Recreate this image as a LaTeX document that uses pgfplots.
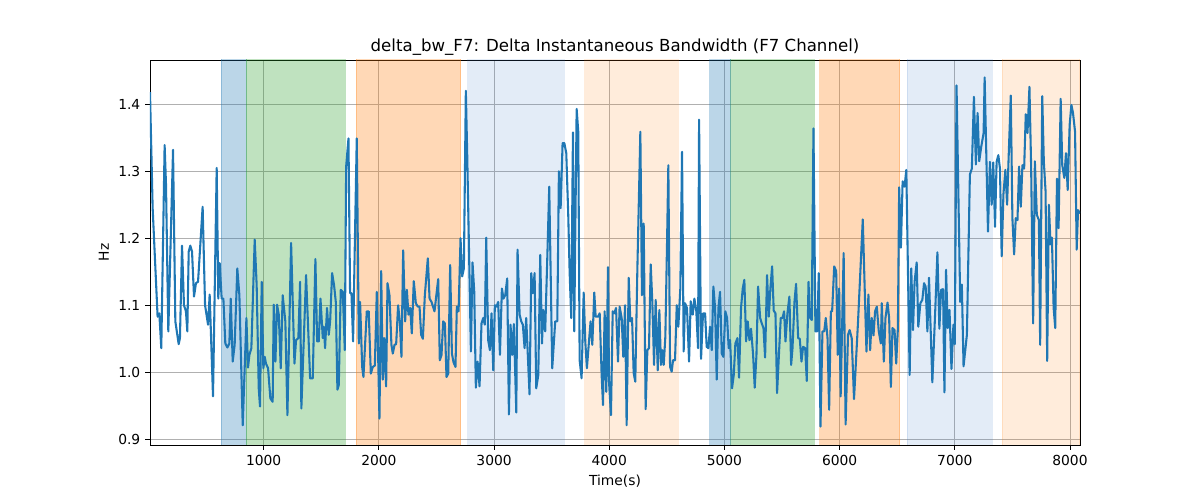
\documentclass[border=0pt]{standalone}
\usepackage{fontspec}
\setmainfont{DejaVu Sans}
\usepackage{pgfplots}
\pgfplotsset{compat=1.18}
\definecolor{tabblue}{RGB}{31,119,180}
\definecolor{tabgreen}{RGB}{44,160,44}
\definecolor{taborange}{RGB}{255,127,14}
\definecolor{lightbandblue}{RGB}{68,128,202}
\begin{document}
\begin{tikzpicture}
\begin{axis}[
  scale only axis, width=9.3in, height=3.85in,
  xmin=13, xmax=8087, ymin=0.8915, ymax=1.466,
  xtick={1000,2000,3000,4000,5000,6000,7000,8000},
  ytick={0.9,1.0,1.1,1.2,1.3,1.4},
  /pgf/number format/assume math mode=true,
  xticklabel style={/pgf/number format/1000 sep={}},
  yticklabel style={/pgf/number format/fixed,/pgf/number format/fixed zerofill,/pgf/number format/precision=1},
  tick label style={font=\fontsize{10}{12}\selectfont},
  tick align=outside, major tick length=3.5pt,
  tick style={black, line width=0.6pt},
  xtick pos=bottom, ytick pos=left,
  grid=major, grid style={color=black!31, line width=0.6pt},
  axis line style={line width=0.6pt},
  xlabel={Time(s)}, ylabel={Hz},
  label style={font=\fontsize{10}{12}\selectfont},
  title={delta\_bw\_F7: Delta Instantaneous Bandwidth (F7 Channel)},
  title style={font=\fontsize{12}{14}\selectfont, yshift=-6pt},
]
% shaded bands
\addplot[draw=tabblue, draw opacity=0.3, fill=tabblue, fill opacity=0.3, line width=0.8pt] coordinates {(632,0.85) (847,0.85) (847,1.5) (632,1.5)} -- cycle;
\addplot[draw=tabgreen, draw opacity=0.3, fill=tabgreen, fill opacity=0.3, line width=0.8pt] coordinates {(847,0.85) (1707,0.85) (1707,1.5) (847,1.5)} -- cycle;
\addplot[draw=taborange, draw opacity=0.3, fill=taborange, fill opacity=0.3, line width=0.8pt] coordinates {(1805,0.85) (2709,0.85) (2709,1.5) (1805,1.5)} -- cycle;
\addplot[draw=lightbandblue, draw opacity=0.15, fill=lightbandblue, fill opacity=0.15, line width=0.8pt] coordinates {(2770,0.85) (3610,0.85) (3610,1.5) (2770,1.5)} -- cycle;
\addplot[draw=taborange, draw opacity=0.15, fill=taborange, fill opacity=0.15, line width=0.8pt] coordinates {(3786,0.85) (4600,0.85) (4600,1.5) (3786,1.5)} -- cycle;
\addplot[draw=tabblue, draw opacity=0.3, fill=tabblue, fill opacity=0.3, line width=0.8pt] coordinates {(4872,0.85) (5055,0.85) (5055,1.5) (4872,1.5)} -- cycle;
\addplot[draw=tabgreen, draw opacity=0.3, fill=tabgreen, fill opacity=0.3, line width=0.8pt] coordinates {(5055,0.85) (5779,0.85) (5779,1.5) (5055,1.5)} -- cycle;
\addplot[draw=taborange, draw opacity=0.3, fill=taborange, fill opacity=0.3, line width=0.8pt] coordinates {(5828,0.85) (6523,0.85) (6523,1.5) (5828,1.5)} -- cycle;
\addplot[draw=lightbandblue, draw opacity=0.15, fill=lightbandblue, fill opacity=0.15, line width=0.8pt] coordinates {(6587,0.85) (7326,0.85) (7326,1.5) (6587,1.5)} -- cycle;
\addplot[draw=taborange, draw opacity=0.15, fill=taborange, fill opacity=0.15, line width=0.8pt] coordinates {(7413,0.85) (8087,0.85) (8087,1.5) (7413,1.5)} -- cycle;
% signal
\addplot[color=tabblue, line width=1.5pt, mark=none, line join=round] table[row sep=\\] {
x y\\
13 1.418\\ 36 1.245\\ 79 1.083\\ 94 1.088\\ 111 1.036\\ 140 1.339\\ 152 1.280\\ 172 1.061\\ 213 1.332\\ 233 1.076\\
262 1.042\\ 273 1.051\\ 291 1.189\\ 308 1.100\\ 325 1.091\\ 337 1.061\\ 349 1.180\\ 363 1.189\\ 378 1.180\\ 395 1.113\\
412 1.133\\ 430 1.135\\ 470 1.247\\ 491 1.100\\ 517 1.071\\ 531 1.116\\ 560 0.964\\ 592 1.305\\ 606 1.110\\ 618 1.163\\
635 1.110\\ 650 1.110\\ 667 1.043\\ 685 1.037\\ 702 1.043\\ 714 1.110\\ 731 1.016\\ 748 1.041\\ 771 1.155\\ 789 1.115\\
818 0.921\\ 850 1.081\\ 864 1.007\\ 876 1.026\\ 893 1.036\\ 922 1.198\\ 939 1.130\\ 957 0.976\\ 968 0.949\\ 983 1.135\\
997 1.006\\ 1009 1.023\\ 1020 1.013\\ 1038 1.006\\ 1058 0.961\\ 1078 0.956\\ 1087 1.101\\ 1102 1.016\\ 1116 1.101\\ 1131 1.086\\
1148 1.006\\ 1165 1.115\\ 1188 1.076\\ 1206 0.936\\ 1238 1.193\\ 1267 1.013\\ 1281 1.048\\ 1301 1.051\\ 1316 1.135\\ 1327 0.946\\
1368 1.145\\ 1403 0.991\\ 1426 0.991\\ 1449 1.169\\ 1464 1.046\\ 1478 1.046\\ 1493 1.110\\ 1513 1.051\\ 1522 1.068\\ 1533 1.036\\
1550 1.096\\ 1565 1.056\\ 1577 1.076\\ 1594 1.148\\ 1611 1.130\\ 1626 1.105\\ 1640 0.974\\ 1652 0.981\\ 1669 1.123\\ 1687 1.120\\
1704 1.033\\ 1716 1.307\\ 1736 1.349\\ 1750 1.118\\ 1762 1.118\\ 1776 1.046\\ 1808 1.349\\ 1826 1.043\\ 1837 1.105\\ 1855 1.008\\
1866 0.993\\ 1895 1.091\\ 1912 1.091\\ 1930 0.998\\ 1947 1.008\\ 1965 1.010\\ 1982 1.120\\ 2005 0.931\\
2020 1.151\\ 2034 0.989\\ 2046 1.051\\ 2063 0.979\\ 2075 1.133\\ 2092 1.115\\ 2109 1.041\\ 2121 1.028\\ 2136 1.041\\ 2150 1.042\\
2167 1.100\\ 2182 1.076\\ 2196 1.023\\ 2211 1.182\\ 2228 1.076\\ 2243 1.123\\ 2257 1.086\\ 2272 1.096\\ 2286 1.058\\ 2303 1.136\\
2321 1.103\\ 2338 1.098\\ 2353 1.098\\ 2367 1.056\\ 2382 1.050\\ 2399 1.115\\ 2425 1.170\\ 2440 1.110\\ 2457 1.105\\ 2483 1.091\\
2515 1.139\\ 2529 1.018\\ 2544 1.026\\ 2558 1.076\\ 2573 1.073\\ 2587 0.993\\ 2602 0.998\\ 2619 1.160\\ 2634 1.028\\ 2648 1.015\\
2665 1.008\\ 2677 1.098\\ 2692 1.091\\ 2709 1.200\\ 2723 1.143\\ 2738 1.155\\ 2755 1.420\\ 2767 1.324\\ 2799 1.031\\ 2813 1.164\\
2828 1.120\\ 2842 0.977\\ 2857 1.016\\ 2874 0.979\\ 2891 1.073\\ 2906 1.081\\ 2920 1.071\\ 2932 1.201\\ 2949 1.048\\ 2964 1.033\\
2978 1.088\\ 2993 1.003\\ 3007 1.100\\ 3022 1.098\\ 3036 1.105\\ 3051 1.026\\ 3068 1.125\\ 3082 1.110\\ 3097 1.115\\ 3114 1.140\\
3129 0.937\\ 3143 1.071\\ 3158 1.026\\ 3172 1.072\\ 3193 0.940\\ 3204 1.183\\ 3222 1.086\\ 3236 1.076\\ 3250 1.071\\ 3265 1.036\\
3279 1.081\\ 3308 0.967\\ 3323 1.148\\ 3337 1.118\\ 3352 1.148\\ 3366 0.976\\ 3384 0.996\\ 3401 1.175\\ 3416 1.043\\ 3427 1.093\\
3444 1.061\\ 3462 1.170\\ 3479 1.277\\ 3505 1.006\\ 3531 1.076\\ 3549 1.076\\ 3563 1.300\\ 3578 1.245\\ 3595 1.342\\ 3610 1.342\\
3627 1.327\\ 3644 1.235\\ 3656 1.150\\ 3670 1.081\\ 3685 1.358\\ 3696 1.061\\ 3717 1.393\\ 3731 1.359\\ 3743 1.018\\ 3760 0.991\\
3778 1.119\\ 3792 1.046\\ 3806 1.006\\ 3824 1.046\\ 3838 1.076\\ 3853 1.041\\ 3870 1.119\\ 3882 1.083\\ 3902 1.083\\ 3917 1.088\\
3934 0.996\\ 3946 0.951\\ 3960 1.091\\ 3974 0.971\\ 3989 1.157\\
3998 0.986\\ 4015 0.936\\ 4030 1.091\\ 4044 1.088\\ 4059 1.096\\ 4076 1.016\\ 4090 1.098\\ 4108 1.081\\ 4122 1.023\\ 4137 1.100\\
4151 0.921\\ 4169 1.141\\ 4183 1.076\\ 4198 1.081\\ 4212 0.999\\ 4226 0.986\\ 4244 1.153\\ 4270 1.359\\ 4284 1.115\\ 4299 1.222\\
4316 0.945\\ 4331 1.033\\ 4345 1.036\\ 4360 1.161\\ 4374 1.105\\ 4389 1.011\\ 4403 1.108\\ 4421 1.003\\ 4435 1.093\\ 4449 1.011\\
4461 1.033\\ 4473 1.011\\ 4487 1.053\\ 4502 1.195\\ 4513 1.309\\ 4528 1.008\\ 4542 1.001\\ 4554 1.018\\ 4571 1.018\\ 4586 1.100\\
4600 1.068\\ 4617 1.125\\ 4632 1.329\\ 4646 1.031\\ 4658 1.103\\ 4675 1.096\\ 4693 1.016\\ 4707 1.106\\ 4725 1.086\\ 4739 1.110\\
4756 1.091\\ 4771 1.036\\ 4780 1.377\\ 4797 1.020\\ 4814 1.088\\ 4832 1.088\\ 4846 1.038\\ 4861 1.036\\ 4875 1.068\\ 4890 1.033\\
4904 1.128\\ 4919 1.096\\ 4933 0.989\\ 4948 1.096\\ 4962 1.120\\ 4977 1.028\\ 4991 1.023\\ 5008 1.091\\ 5023 1.081\\ 5037 1.036\\
5049 1.048\\ 5066 0.976\\ 5081 0.996\\ 5095 1.043\\ 5113 1.051\\ 5127 0.992\\ 5144 1.096\\ 5159 1.125\\ 5173 1.138\\ 5188 1.046\\
5202 1.076\\ 5217 1.048\\ 5231 1.065\\ 5249 1.026\\ 5263 0.977\\ 5278 1.026\\ 5292 1.128\\ 5310 1.081\\ 5324 1.073\\ 5339 1.066\\
5353 1.022\\ 5370 1.145\\ 5385 1.083\\ 5399 1.125\\ 5414 1.158\\ 5428 1.092\\ 5443 1.088\\ 5457 0.969\\ 5475 1.033\\ 5489 1.081\\
5504 1.081\\ 5518 1.091\\ 5530 1.046\\ 5547 1.088\\ 5564 1.113\\ 5579 1.011\\ 5591 1.036\\ 5608 1.105\\ 5622 1.132\\ 5640 1.051\\
5654 1.050\\ 5669 1.016\\ 5683 1.038\\ 5701 1.036\\ 5715 0.987\\ 5730 1.135\\ 5741 1.082\\ 5758 1.078\\ 5773 1.364\\ 5790 1.061\\
5805 1.061\\ 5819 1.148\\ 5834 0.919\\ 5851 1.061\\ 5866 1.061\\ 5880 1.081\\ 5895 1.051\\ 5909 0.944\\ 5924 1.091\\ 5935 1.091\\
5953 1.158\\ 5970 1.151\\ 5984 1.026\\ 5996 1.125\\
6009 0.964\\ 6035 1.178\\ 6052 0.922\\ 6073 1.056\\ 6087 1.063\\ 6105 1.051\\ 6125 0.960\\ 6160 1.076\\ 6180 1.150\\ 6201 1.228\\
6233 1.031\\ 6250 1.116\\ 6265 1.033\\ 6279 1.081\\ 6294 1.055\\ 6308 1.091\\ 6323 1.098\\ 6340 1.061\\ 6358 1.043\\ 6366 1.103\\
6384 1.016\\ 6398 1.081\\ 6416 1.104\\ 6430 1.081\\ 6445 0.978\\ 6459 1.066\\ 6477 1.063\\ 6491 1.013\\ 6506 1.066\\ 6517 1.276\\
6532 1.186\\ 6547 1.285\\ 6564 1.277\\ 6579 1.302\\ 6608 0.996\\ 6622 1.155\\ 6637 1.063\\ 6651 1.135\\ 6669 1.164\\ 6683 1.068\\
6701 1.103\\ 6718 1.108\\ 6733 1.133\\ 6747 1.128\\ 6762 1.061\\ 6776 1.141\\ 6805 0.985\\ 6831 1.096\\ 6849 1.179\\ 6866 1.065\\
6881 1.123\\ 6898 1.124\\ 6910 0.970\\ 6924 1.153\\ 6939 1.066\\ 6954 1.093\\ 6971 1.005\\ 6988 1.071\\ 7000 1.042\\ 7015 1.428\\
7047 1.105\\ 7061 1.131\\ 7076 1.009\\ 7105 1.056\\ 7131 1.295\\ 7148 1.304\\ 7166 1.411\\ 7183 1.310\\ 7198 1.387\\ 7212 1.315\\
7230 1.337\\ 7250 1.357\\ 7259 1.440\\ 7288 1.210\\ 7305 1.314\\ 7320 1.250\\ 7334 1.313\\ 7349 1.217\\ 7363 1.314\\ 7378 1.324\\
7392 1.304\\ 7407 1.173\\ 7422 1.265\\ 7439 1.302\\ 7454 1.250\\ 7468 1.324\\ 7486 1.413\\ 7500 1.230\\ 7515 1.176\\ 7529 1.230\\
7544 1.227\\ 7558 1.307\\ 7573 1.247\\ 7587 1.309\\ 7602 1.304\\ 7616 1.385\\ 7631 1.357\\ 7648 1.426\\ 7663 1.304\\ 7680 1.073\\
7695 1.315\\ 7712 1.235\\ 7730 1.227\\ 7741 1.041\\ 7759 1.412\\ 7773 1.314\\ 7788 1.270\\ 7802 1.017\\ 7817 1.250\\ 7831 1.191\\
7843 1.201\\ 7858 1.096\\ 7872 1.066\\ 7887 1.289\\ 7901 1.215\\ 7919 1.408\\ 7933 1.309\\ 7951 1.290\\ 7965 1.327\\ 7980 1.272\\
7997 1.369\\ 8012 1.399\\ 8026 1.387\\ 8044 1.359\\ 8058 1.183\\ 8070 1.242\\ 8087 1.237\\
};
\end{axis}
\path (current axis.south west) ++(-1.5in,-0.55in) coordinate (bl);
\path (current axis.north east) ++(1.2in,0.6in) coordinate (tr);
\path[use as bounding box] (bl) rectangle (tr);
\end{tikzpicture}
\end{document}
